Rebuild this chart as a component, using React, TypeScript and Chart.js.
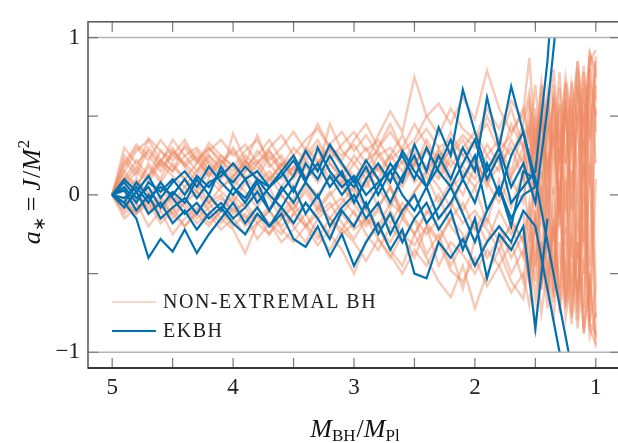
import React, { useEffect, useRef } from 'react';
import { Chart, registerables } from 'chart.js';

Chart.register(...registerables);

// x positions (M_BH / M_Pl)
const ORANGE_X = [
  5.0, 4.9, 4.8, 4.7, 4.6, 4.5, 4.4, 4.3, 4.2, 4.1,
  4.0, 3.9, 3.8, 3.7, 3.6, 3.5, 3.4, 3.3, 3.2, 3.1,
  3.0, 2.9, 2.8, 2.7, 2.6, 2.5, 2.4, 2.3, 2.2, 2.1,
  2.0, 1.9, 1.8, 1.7, 1.6,
  1.55, 1.5, 1.45, 1.4, 1.35, 1.3, 1.25, 1.2, 1.15, 1.1, 1.05, 1.0,
];
const BLUE_X = [
  5.0, 4.9, 4.8, 4.7, 4.6, 4.5, 4.4, 4.3, 4.2, 4.1,
  4.0, 3.9, 3.8, 3.7, 3.6, 3.5, 3.4, 3.3, 3.2, 3.1,
  3.0, 2.9, 2.8, 2.7, 2.6, 2.5, 2.4, 2.3, 2.2, 2.1,
  2.0, 1.9, 1.8, 1.7, 1.6, 1.5,
  1.4, 1.3, 1.2, 1.1,
];

// Non-extremal BH spin trajectories
const O1 = [0.00,0.18,0.30,0.22,0.35,0.25,0.20,0.28,0.15,0.22, 0.12,0.20,0.38,0.18,0.25,0.10,0.22,0.32,0.20,0.12, 0.25,0.15,0.30,0.45,0.28,0.18,0.35,0.22,0.40,0.25, 0.15,0.32,0.20,0.45,0.30, 0.55,0.20,0.60,-0.10,0.70,0.15,0.65,-0.20,0.75,0.30,0.85,0.92];
const O2 = [0.00,-0.08,0.05,-0.12,-0.02,-0.15,-0.05,0.02,-0.10,-0.18, -0.08,-0.20,-0.12,-0.25,-0.15,-0.05,-0.18,-0.28,-0.15,-0.22, -0.10,-0.25,-0.35,-0.20,-0.30,-0.15,-0.38,-0.25,-0.45,-0.30, -0.20,-0.40,-0.28,-0.50,-0.35, -0.55,-0.20,-0.60,-0.10,-0.65,0.10,-0.70,-0.25,-0.80,0.20,-0.85,-0.95];
const O3 = [0.00,0.25,0.15,0.36,0.28,0.22,0.30,0.20,0.33,0.25, 0.18,0.28,0.35,0.22,0.30,0.40,0.28,0.45,0.30,0.25, 0.32,0.20,0.38,0.53,0.40,0.75,0.50,0.58,0.45,0.62, 0.48,0.79,0.55,0.40,0.52, 0.87,0.35,0.55,0.10,0.62,-0.15,0.70,0.30,0.80,-0.05,0.88,0.60];
const O4 = [0.00,0.12,0.05,0.20,0.10,0.28,0.18,0.08,0.22,0.12, 0.39,0.22,0.10,0.25,0.15,0.05,0.18,0.08,0.20,0.10, 0.02,0.15,0.05,-0.08,0.10,0.22,0.05,0.30,0.12,0.00, 0.18,0.05,0.28,0.10,-0.05, 0.30,-0.25,0.45,-0.35,0.50,-0.10,0.60,-0.40,0.55,-0.50,0.70,-0.60];
const O5 = [0.00,0.05,-0.10,-0.02,-0.15,-0.08,-0.20,-0.12,-0.05,-0.15, -0.22,-0.37,-0.18,-0.25,-0.10,-0.20,-0.30,-0.15,-0.25,-0.35, -0.50,-0.30,-0.20,-0.35,-0.45,-0.25,-0.40,-0.55,-0.65,-0.45, -0.72,-0.50,-0.35,-0.55,-0.66, -0.40,-0.88,-0.30,-0.60,0.05,-0.70,-0.20,-0.75,0.15,-0.88,-0.50,-0.97];
const O6 = [0.00,0.20,0.32,0.25,0.15,0.28,0.20,0.12,0.25,0.18, 0.10,0.22,0.15,0.28,0.18,0.30,0.22,0.15,0.45,0.28, 0.20,0.30,0.15,0.25,0.38,0.22,0.15,0.28,0.18,0.30, 0.40,0.25,0.35,0.55,0.30, 0.45,0.05,0.65,0.20,0.40,-0.05,0.55,0.25,0.70,0.10,0.80,0.40];
const O7 = [0.00,0.02,0.10,0.00,0.08,-0.05,0.05,-0.02,0.10,0.02, -0.05,0.08,-0.02,0.12,0.00,-0.10,0.05,-0.08,0.02,-0.12, -0.02,0.10,-0.08,0.05,-0.15,0.02,0.12,-0.05,0.08,-0.10, 0.05,-0.18,0.10,-0.08,0.15, -0.30,0.35,-0.45,0.25,-0.55,0.40,-0.50,0.45,-0.65,0.50,-0.70,0.55];
const O8 = [0.00,0.15,0.28,0.35,0.22,0.30,0.18,0.25,0.12,0.20, 0.28,0.15,0.22,0.10,0.18,0.25,0.12,0.20,0.30,0.18, 0.10,0.22,0.28,0.15,0.05,0.20,0.30,0.12,0.25,0.35, 0.20,0.10,0.30,0.15,0.42, 0.20,0.55,0.10,0.62,0.00,0.68,0.20,0.72,-0.10,0.78,0.35,0.85];
const O9 = [0.00,-0.05,-0.12,-0.05,-0.18,-0.10,-0.02,-0.12,-0.20,-0.10, -0.02,-0.15,-0.08,-0.18,-0.25,-0.12,-0.20,-0.08,-0.15,-0.25, -0.18,-0.08,-0.22,-0.30,-0.15,-0.25,-0.10,-0.20,-0.35,-0.60, -0.28,-0.15,-0.30,-0.20,-0.40, -0.10,-0.55,0.05,-0.62,-0.15,-0.70,0.10,-0.78,-0.30,-0.85,0.20,-0.90];
const O10 = [0.00,0.10,0.22,0.12,0.28,0.18,0.10,0.20,0.30,0.22, 0.15,0.25,0.18,0.08,0.20,0.12,0.25,0.35,0.22,0.32, 0.40,0.28,0.35,0.22,0.30,0.45,0.32,0.20,0.28,0.38, 0.30,0.50,0.35,0.25,0.45, 0.60,0.25,0.70,0.35,0.58,0.20,0.72,0.40,0.85,0.45,0.90,0.75];
const O11 = [0.00,-0.10,-0.02,-0.08,0.00,-0.12,-0.05,-0.15,-0.08,-0.02, -0.10,-0.05,-0.15,-0.08,0.00,-0.10,-0.20,-0.12,-0.05,-0.18, -0.28,-0.15,-0.22,-0.10,-0.25,-0.40,-0.20,-0.30,-0.15,-0.25, -0.45,-0.30,-0.20,-0.40,-0.25, -0.50,-0.15,-0.55,-0.30,-0.68,-0.05,-0.72,-0.40,-0.60,-0.20,-0.82,-0.88];
const O12 = [0.00,0.08,0.18,0.10,0.22,0.15,0.32,0.22,0.12,0.25, 0.18,0.10,0.20,0.28,0.15,0.22,0.10,0.18,0.28,0.20, 0.12,0.05,0.18,0.10,0.22,0.08,0.15,0.25,0.05,0.12, 0.22,0.08,0.18,0.30,0.10, 0.40,-0.05,0.50,0.15,0.35,-0.20,0.60,0.05,0.50,-0.30,0.65,0.20];
const O13 = [0.00,-0.02,0.08,0.02,-0.08,0.00,0.10,0.02,-0.05,0.05, 0.10,0.02,-0.08,0.05,-0.12,-0.02,0.08,-0.05,-0.15,-0.05, 0.05,-0.10,-0.20,-0.05,-0.12,0.00,-0.18,-0.28,-0.15,-0.05, -0.22,-0.10,0.02,-0.15,-0.30, -0.05,-0.45,0.15,-0.50,-0.20,-0.60,0.25,-0.65,-0.10,-0.72,0.30,-0.78];
const O14 = [0.00,0.15,0.05,0.18,0.08,0.20,0.10,0.02,0.15,0.05, 0.12,0.22,0.08,0.15,0.05,0.18,0.10,0.28,0.15,0.08, 0.20,0.10,0.25,0.15,0.08,0.20,0.28,0.15,0.30,0.18, 0.10,0.25,0.15,0.35,0.20, 0.45,0.10,0.55,-0.15,0.65,0.30,0.52,-0.10,0.68,0.25,0.75,0.50];
const O15 = [0.00,0.22,0.12,0.30,0.20,0.35,0.25,0.15,0.28,0.35, 0.25,0.32,0.20,0.30,0.38,0.25,0.35,0.42,0.30,0.22, 0.35,0.45,0.30,0.40,0.28,0.35,0.50,0.38,0.55,0.42, 0.35,0.55,0.42,0.60,0.48, 0.65,0.30,0.72,0.45,0.80,0.35,0.75,0.50,0.85,0.40,0.90,0.80];
const O16 = [0.00,-0.12,-0.05,-0.20,-0.10,-0.25,-0.15,-0.08,-0.18,-0.10, -0.20,-0.12,-0.28,-0.18,-0.30,-0.22,-0.12,-0.25,-0.35,-0.22, -0.30,-0.42,-0.28,-0.38,-0.50,-0.35,-0.45,-0.30,-0.48,-0.55, -0.40,-0.58,-0.45,-0.62,-0.50, -0.70,-0.35,-0.75,-0.45,-0.80,-0.30,-0.78,-0.50,-0.85,-0.40,-0.90,-0.75];
const O17 = [0.00,0.05,0.15,0.08,0.20,0.12,0.05,0.15,0.25,0.15, 0.05,0.15,0.28,0.20,0.10,0.18,0.08,0.00,0.12,0.05, -0.05,0.08,0.18,0.05,-0.10,0.02,0.15,0.05,-0.08,0.10, 0.22,0.08,-0.05,0.12,0.25, 0.05,0.50,-0.20,0.45,-0.30,0.55,-0.25,0.62,-0.40,0.68,-0.45,0.70];
const O18 = [0.00,-0.03,-0.12,-0.02,0.05,-0.08,0.02,0.08,-0.05,0.00, -0.12,-0.05,0.05,-0.02,-0.15,-0.08,0.02,-0.10,0.00,0.08, -0.05,-0.18,-0.08,0.05,-0.12,-0.25,-0.12,0.00,-0.20,-0.30, -0.15,-0.30,-0.10,-0.25,-0.12, -0.45,0.20,-0.55,0.10,-0.62,0.30,-0.68,0.15,-0.75,0.35,-0.80,0.10];
const O19 = [0.00,0.30,0.20,0.28,0.18,0.25,0.35,0.22,0.30,0.20, 0.30,0.18,0.25,0.35,0.22,0.15,0.28,0.20,0.32,0.40, 0.28,0.38,0.25,0.30,0.20,0.32,0.42,0.30,0.35,0.25, 0.35,0.45,0.28,0.38,0.55, 0.35,0.70,0.25,0.65,0.30,0.78,0.20,0.70,0.45,0.82,0.30,0.88];
const O20 = [0.00,-0.15,-0.08,-0.02,-0.10,0.00,-0.08,-0.18,-0.12,-0.22, -0.15,-0.25,-0.18,-0.10,-0.22,-0.30,-0.20,-0.32,-0.22,-0.12, -0.22,-0.15,-0.28,-0.40,-0.25,-0.32,-0.20,-0.45,-0.30,-0.38, -0.50,-0.35,-0.45,-0.30,-0.55, -0.25,-0.65,-0.35,-0.72,-0.20,-0.75,-0.45,-0.82,-0.30,-0.88,-0.55,-0.92];
const O21 = [0.00,0.10,0.02,0.12,0.22,0.15,0.25,0.30,0.20,0.10, 0.20,0.12,0.02,0.10,0.20,0.12,0.30,0.22,0.10,0.15, 0.05,0.18,0.10,0.25,0.15,0.28,0.18,0.10,0.22,0.15, 0.05,0.18,0.25,0.12,0.30, 0.10,0.40,-0.05,0.50,0.20,0.58,-0.10,0.55,0.15,0.72,0.05,0.80];
const O22 = [0.00,-0.06,0.02,-0.10,-0.04,-0.12,-0.20,-0.10,-0.02,-0.08, 0.00,-0.08,-0.18,-0.10,-0.20,-0.12,-0.05,-0.15,-0.08,-0.02, -0.12,-0.20,-0.10,-0.18,-0.05,-0.15,-0.25,-0.15,-0.05,-0.18, -0.10,-0.22,-0.35,-0.18,-0.28, -0.55,-0.10,-0.60,-0.25,-0.45,0.05,-0.65,-0.20,-0.70,0.00,-0.80,-0.60];
const ORANGE_SERIES = [O1, O2, O3, O4, O5, O6, O7, O8, O9, O10, O11, O12, O13, O14, O15, O16, O17, O18, O19, O20, O21, O22];

// EKBH spin trajectories
const B1 = [0.00,0.05,-0.05,0.08,0.02,0.10,0.00,0.12,0.05,0.15, 0.08,0.18,0.10,0.05,0.15,0.02,0.20,0.10,0.25,0.12, 0.05,0.18,0.00,0.15,0.25,0.10,0.30,0.15,0.05,0.20, 0.35,0.10,0.25,-0.05,0.05,0.15, 0.85,1.9];
const B2 = [0.00,-0.08,0.02,-0.12,-0.05,-0.18,-0.10,-0.22,-0.12,-0.05, -0.15,-0.08,0.02,-0.10,0.05,-0.05,0.08,-0.02,0.12,0.00, 0.10,-0.08,0.05,0.20,0.08,0.32,0.15,0.43,0.25,0.67, 0.40,0.15,0.30,0.05,0.20,-0.05, 0.55,1.3];
const B3 = [0.00,-0.05,-0.15,-0.40,-0.28,-0.36,-0.22,-0.37,-0.25,-0.15, -0.05,-0.18,-0.08,-0.20,-0.12,-0.28,-0.33,-0.20,-0.39,-0.25, -0.45,-0.30,-0.18,-0.35,-0.22,-0.50,-0.53,-0.30,-0.40,-0.28, -0.45,-0.30,-0.20,-0.30,-0.10,-0.20, -0.6,-1.0,-1.4];
const B4 = [0.00,0.08,-0.02,0.05,-0.08,0.02,-0.05,0.10,0.00,0.18, 0.05,-0.05,0.08,-0.10,0.02,0.12,0.28,0.15,0.32,0.20, 0.08,0.22,0.10,-0.05,0.12,0.25,0.05,0.18,0.35,0.10, 0.25,-0.10,0.05,-0.20,0.15,0.10, -0.30,-0.70,-1.10,-1.50];
const B5 = [0.00,-0.02,0.05,-0.05,0.08,-0.02,-0.12,-0.05,-0.15,-0.08, -0.18,-0.25,-0.12,-0.20,-0.08,-0.18,-0.05,-0.15,-0.28,-0.10, -0.20,-0.05,-0.25,-0.12,-0.30,-0.15,-0.05,-0.22,-0.10,-0.35, -0.15,-0.53,-0.25,-0.35,-0.20,-0.85, -0.15];
const B6 = [0.00,0.10,0.02,0.12,-0.02,0.08,0.15,0.05,0.18,0.08, 0.00,0.10,-0.05,0.05,0.15,0.25,0.10,0.20,0.05,0.15, -0.05,0.10,0.20,0.08,0.28,0.15,0.05,0.25,0.10,0.30, 0.15,0.62,0.30,0.69,0.40,0.10];
const B7 = [0.00,0.03,-0.10,0.00,-0.15,-0.08,-0.02,-0.12,0.00,-0.10, 0.05,-0.02,0.10,0.00,-0.08,0.05,-0.12,0.00,-0.20,-0.08, 0.00,-0.15,-0.05,-0.25,-0.10,0.00,-0.18,-0.08,0.05,-0.12, -0.30,-0.10,0.05,-0.15,0.00,0.05];
const B8 = [0.00,-0.05,0.08,-0.02,0.05,0.00,0.10,-0.02,0.08,0.12, 0.20,0.10,0.15,0.05,0.12,0.22,0.08,0.30,0.15,0.05, 0.12,0.00,0.08,0.15,0.00,-0.10,0.05,-0.15,-0.05,0.10, -0.05,0.20,0.00,0.25,0.40,0.05];
const BLUE_SERIES = [B1, B2, B3, B4, B5, B6, B7, B8];

const X_TICKS = [1, 1.5, 2, 2.5, 3, 3.5, 4, 4.5, 5];
const Y_TICKS = [-1, -0.5, 0, 0.5, 1];
const LEGEND_LABELS = ['NON-EXTREMAL BH', 'EKBH'];

const ORANGE = 'rgba(238,135,95,0.45)';
const ORANGE_LEGEND = 'rgba(238,135,95,0.35)';
const BLUE = 'rgb(0,114,178)';
const SERIF = '"Liberation Serif", "Times New Roman", serif';

type Part = { t: string; italic?: boolean; size: number; dy?: number; gap?: number };

function drawRich(ctx: CanvasRenderingContext2D, parts: Part[], cx: number, baseline: number) {
  const fontOf = (p: Part) => `${p.italic ? 'italic ' : ''}${p.size}px ${SERIF}`;
  let w = 0;
  parts.forEach((p) => {
    ctx.font = fontOf(p);
    w += ctx.measureText(p.t).width + (p.gap || 0);
  });
  let x = cx - w / 2;
  ctx.textAlign = 'left';
  ctx.textBaseline = 'alphabetic';
  parts.forEach((p) => {
    ctx.font = fontOf(p);
    ctx.fillText(p.t, x, baseline + (p.dy || 0));
    x += ctx.measureText(p.t).width + (p.gap || 0);
  });
}

const isInt = (v: number) => Math.abs(v - Math.round(v)) < 1e-9;

const decorPlugin = {
  id: 'decor',
  beforeDatasetsDraw(chart: any) {
    const { ctx, chartArea, scales } = chart;
    const t = scales.y.getPixelForValue(1);
    const b = scales.y.getPixelForValue(-1);
    ctx.save();
    ctx.beginPath();
    ctx.rect(chartArea.left, t, chartArea.right - chartArea.left, b - t);
    ctx.clip();
  },
  afterDatasetsDraw(chart: any) {
    const { ctx, chartArea: ca, scales } = chart;
    ctx.restore();
    ctx.save();
    // lines at a = +-1
    ctx.strokeStyle = '#b4b4b4';
    ctx.lineWidth = 1.5;
    [1, -1].forEach((v) => {
      const py = scales.y.getPixelForValue(v);
      ctx.beginPath();
      ctx.moveTo(ca.left, py);
      ctx.lineTo(ca.right, py);
      ctx.stroke();
    });
    // inward ticks
    ctx.strokeStyle = '#777';
    ctx.lineWidth = 1.2;
    const tl = 10;
    X_TICKS.forEach((v) => {
      const px = scales.x.getPixelForValue(v);
      ctx.beginPath();
      ctx.moveTo(px, ca.bottom);
      ctx.lineTo(px, ca.bottom - tl);
      ctx.moveTo(px, ca.top);
      ctx.lineTo(px, ca.top + tl);
      ctx.stroke();
    });
    Y_TICKS.forEach((v) => {
      const py = scales.y.getPixelForValue(v);
      ctx.beginPath();
      ctx.moveTo(ca.left, py);
      ctx.lineTo(ca.left + tl, py);
      ctx.moveTo(ca.right, py);
      ctx.lineTo(ca.right - tl, py);
      ctx.stroke();
    });
    // frame
    ctx.strokeStyle = '#555';
    ctx.lineWidth = 1.5;
    ctx.strokeRect(ca.left, ca.top, ca.right - ca.left, ca.bottom - ca.top);
    ctx.strokeStyle = '#222';
    ctx.beginPath();
    ctx.moveTo(ca.left, ca.bottom);
    ctx.lineTo(ca.right, ca.bottom);
    ctx.stroke();

    // legend
    const lx = ca.left + 24;
    const ly = [302, 331];
    const colors = [ORANGE_LEGEND, BLUE];
    LEGEND_LABELS.forEach((label, i) => {
      ctx.strokeStyle = colors[i];
      ctx.lineWidth = 2.2;
      ctx.beginPath();
      ctx.moveTo(lx, ly[i]);
      ctx.lineTo(lx + 44, ly[i]);
      ctx.stroke();
      ctx.fillStyle = '#222';
      ctx.font = `20px ${SERIF}`;
      (ctx as any).letterSpacing = '1.5px';
      ctx.textAlign = 'left';
      ctx.textBaseline = 'middle';
      ctx.fillText(label, lx + 51, ly[i] + 1);
      (ctx as any).letterSpacing = '0px';
    });

    // axis titles
    ctx.fillStyle = '#111';
    const xParts: Part[] = [
      { t: 'M', italic: true, size: 26 },
      { t: 'BH', size: 17, dy: 4, gap: 1 },
      { t: '/', size: 26 },
      { t: 'M', italic: true, size: 26 },
      { t: 'Pl', size: 17, dy: 4 },
    ];
    drawRich(ctx, xParts, 355, 437);

    const yParts: Part[] = [
      { t: 'a', italic: true, size: 26 },
      { t: '∗', size: 17, dy: 5, gap: 6 },
      { t: '=', size: 26, gap: 6 },
      { t: 'J', italic: true, size: 26, gap: 1 },
      { t: '/', size: 26 },
      { t: 'M', italic: true, size: 26, gap: 1 },
      { t: '2', size: 17, dy: -11 },
    ];
    ctx.translate(40, 192);
    ctx.rotate(-Math.PI / 2);
    drawRich(ctx, yParts, 0, 0);
    ctx.restore();
  },
};

export default function App() {
  const canvasRef = useRef<HTMLCanvasElement | null>(null);

  useEffect(() => {
    if (!canvasRef.current) return;
    const datasets: any[] = [];
    ORANGE_SERIES.forEach((vals, k) => {
      datasets.push({
        label: `orange${k}`,
        data: vals.map((v, i) => ({ x: ORANGE_X[i], y: v })),
        borderColor: ORANGE,
        borderWidth: 2.4,
        pointRadius: 0,
        tension: 0,
        order: 1,
      });
    });
    BLUE_SERIES.forEach((vals, k) => {
      datasets.push({
        label: `blue${k}`,
        data: vals.map((v, i) => ({ x: BLUE_X[i], y: v })),
        borderColor: BLUE,
        borderWidth: 2.2,
        pointRadius: 0,
        tension: 0,
        order: 0,
      });
    });

    const chart = new Chart(canvasRef.current, {
      type: 'line',
      data: { datasets },
      options: {
        animation: false,
        responsive: false,
        devicePixelRatio: 1,
        layout: { padding: { left: 0, right: 2, top: 10, bottom: 0 } },
        plugins: { legend: { display: false }, tooltip: { enabled: false } },
        scales: {
          x: {
            type: 'linear',
            reverse: true,
            min: 0.8,
            max: 5.2,
            grid: { display: false, drawTicks: false },
            border: { display: false },
            afterFit: (s: any) => { s.height = 75; },
            ticks: {
              stepSize: 0.5,
              includeBounds: false,
              autoSkip: false,
              maxRotation: 0,
              padding: 6,
              color: '#222',
              font: { family: SERIF, size: 23 },
              callback: (v: any) => (isInt(Number(v)) ? String(Math.round(Number(v))) : ''),
            },
          },
          y: {
            type: 'linear',
            min: -1.1,
            max: 1.1,
            grid: { display: false, drawTicks: false },
            border: { display: false },
            afterFit: (s: any) => { s.width = 88; },
            ticks: {
              stepSize: 0.5,
              includeBounds: false,
              autoSkip: false,
              padding: 8,
              color: '#222',
              font: { family: SERIF, size: 23 },
              callback: (v: any) => {
                const n = Number(v);
                if (!isInt(n)) return '';
                const r = Math.round(n);
                return r < 0 ? `−${-r}` : String(r);
              },
            },
          },
        },
      },
      plugins: [decorPlugin],
    });
    return () => chart.destroy();
  }, []);

  return (
    <div style={{ position: 'fixed', left: 0, top: 0, width: 618, height: 443, overflow: 'hidden', background: '#fff' }}>
      <canvas ref={canvasRef} width={622} height={443} style={{ width: 622, height: 443, display: 'block' }} />
    </div>
  );
}
